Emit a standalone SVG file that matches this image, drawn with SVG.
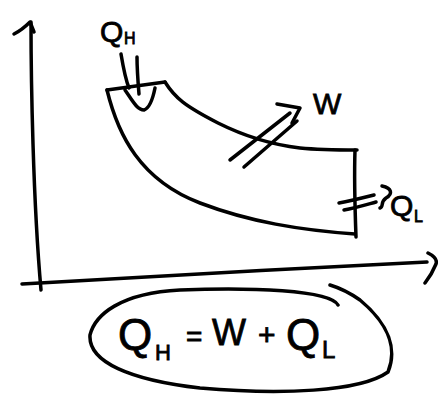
<svg xmlns="http://www.w3.org/2000/svg" width="438" height="394" viewBox="0 0 438 394">
<style>
.s{fill:none;stroke:#000;stroke-width:3.5;stroke-linecap:round;stroke-linejoin:round}
.t{font-family:"Liberation Sans",Arial,sans-serif;fill:#000;stroke:#000;stroke-width:0.8}
</style>
<rect width="438" height="394" fill="#fff"/>
<g id="axes">
<path class="s" d="M31,22 C31,80 33,200 41,290"/>
<path class="s" d="M14,34 Q22,30 30,22 Q32,27 34,32"/>
<path class="s" d="M22,284 C120,278 300,268 427,262"/>
<path class="s" d="M428,253 Q438,258 436,264 Q432,274 425,283"/>
</g>
<g id="cycle">
<path class="s" d="M107,90 L165,82"/>
<path class="s" d="M107,90 C118,135 140,180 200,203 C250,222 300,230 355,234"/>
<path class="s" d="M165,82 C175,98 185,106 218,123 C250,139 275,145 300,148 C320,150 340,150 357,150"/>
<path class="s" d="M355,150 C354,180 355,210 356,237"/>
</g>
<g id="qh-in">
<text class="t" x="100" y="42" font-size="30">Q</text>
<text class="t" x="124" y="44" font-size="16">H</text>
<path class="s" d="M121,54 C123,66 125,78 129,88"/>
<path class="s" d="M137,57 C137,70 138,82 139,94"/>
<path class="s" d="M125,90 C132,100 137,110 144,110 C150,108 153,98 155,88"/>
</g>
<g id="w-out">
<path class="s" d="M230,160 L290,113"/>
<path class="s" d="M244,167 L297,121"/>
<path class="s" d="M277,104 L300,108 L292,123"/>
<text class="t" x="313" y="114" font-size="30">W</text>
</g>
<g id="ql-out">
<path class="s" d="M339,203 C350,201 362,198 374,195"/>
<path class="s" d="M344,210 C355,208 365,205 376,202"/>
<path class="s" d="M382,186 C392,188 393,194 386,198 C380,202 384,207 380,208"/>
<text class="t" x="390" y="216" font-size="30">Q</text>
<text class="t" x="414" y="222" font-size="16">L</text>
</g>
<g id="equation">
<path class="s" d="M338,305 C330,290 250,287 180,290 C120,293 95,315 90,335 C88,362 130,380 200,388 C280,395 360,392 388,372 C397,350 390,325 360,300 C350,293 340,288 330,285"/>
<text class="t" x="118" y="350" font-size="44">Q</text>
<text class="t" x="155" y="360" font-size="22">H</text>
<text class="t" x="186" y="346" font-size="28">=</text>
<text class="t" x="212" y="345" font-size="36">W</text>
<text class="t" x="258" y="345" font-size="30">+</text>
<text class="t" x="286" y="350" font-size="44">Q</text>
<text class="t" x="322" y="358" font-size="24">L</text>
</g>
</svg>
